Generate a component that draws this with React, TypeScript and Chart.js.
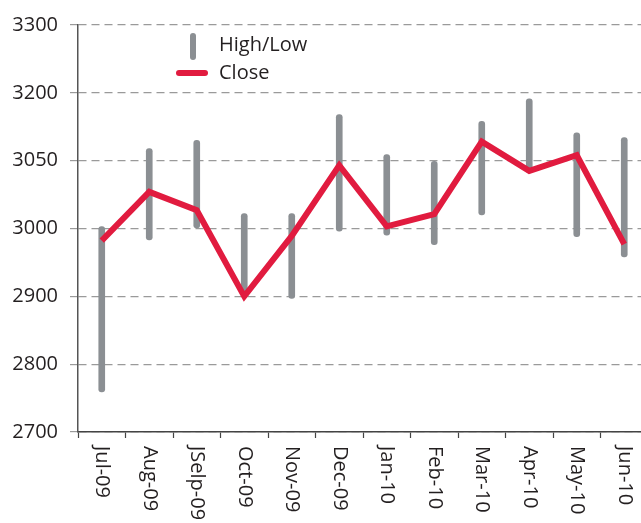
import React, { useEffect, useRef } from "react";
import { Chart, registerables } from "chart.js";

Chart.register(...registerables);

const categories = ["Jul-09", "Aug-09", "JSelp-09", "Oct-09", "Nov-09", "Dec-09", "Jan-10", "Feb-10", "Mar-10", "Apr-10", "May-10", "Jun-10"];
const highValues = [3003, 3118, 3130, 3022, 3022, 3168, 3109, 3099, 3158, 3191, 3141, 3134];
const lowValues = [2759, 2983, 3001, 2905, 2897, 2996, 2990, 2976, 3020, 3082, 2988, 2958];
const closeValues = [2982, 3054, 3027, 2900, 2989, 3093, 3003, 3021, 3128, 3085, 3108, 2977];
const yTickLabels = ["2700", "2800", "2900", "3000", "3050", "3200", "3300"];
const legendLabels = ["High/Low", "Close"];

const GRAY = "#8b8f93";
const RED = "#e11b3f";
const TEXT = "#231f20";
const FONT = "'Open Sans', sans-serif";

export default function App() {
  const ref = useRef<HTMLCanvasElement | null>(null);

  useEffect(() => {
    if (!ref.current) return;
    const xLabelsPlugin = {
      id: "xLabels",
      afterDraw(chart: any) {
        const ctx = chart.ctx;
        const xs = chart.scales.x;
        ctx.save();
        ctx.fillStyle = TEXT;
        ctx.font = `20px ${FONT}`;
        ctx.textAlign = "left";
        ctx.textBaseline = "middle";
        categories.forEach((c, i) => {
          const x = xs.getPixelForValue(i);
          ctx.save();
          ctx.translate(x, chart.chartArea.bottom + 14);
          ctx.rotate(Math.PI / 2);
          ctx.fillText(c, 0, 0);
          ctx.restore();
        });
        // legend
        ctx.lineCap = "round";
        ctx.lineWidth = 6;
        ctx.strokeStyle = GRAY;
        ctx.beginPath();
        ctx.moveTo(193, 36);
        ctx.lineTo(193, 57);
        ctx.stroke();
        ctx.strokeStyle = RED;
        ctx.beginPath();
        ctx.moveTo(179, 73);
        ctx.lineTo(205, 73);
        ctx.stroke();
        ctx.fillText(legendLabels[0], 219, 45);
        ctx.fillText(legendLabels[1], 219, 73);
        ctx.restore();
      },
    };

    const chart = new Chart(ref.current, {
      type: "bar",
      data: {
        labels: categories,
        datasets: [
          {
            type: "line",
            label: "Close",
            data: closeValues,
            borderColor: RED,
            backgroundColor: RED,
            borderWidth: 6,
            pointRadius: 0,
            tension: 0,
            borderJoinStyle: "miter",
            borderCapStyle: "butt",
            order: 0,
          } as any,
          {
            type: "bar",
            label: "High/Low",
            data: lowValues.map((l, i) => [l, highValues[i]]),
            backgroundColor: GRAY,
            barThickness: 6,
            borderRadius: 3,
            borderSkipped: false,
            order: 1,
          } as any,
        ],
      },
      options: {
        responsive: false,
        animation: false,
        layout: { padding: { top: 25, right: 12, left: 0, bottom: 0 } },
        plugins: { legend: { display: false }, tooltip: { enabled: false } },
        scales: {
          x: {
            offset: true,
            grid: {
              offset: true,
              drawOnChartArea: false,
              drawTicks: true,
              tickLength: 6,
              tickColor: "#444",
              tickWidth: 1.2,
            },
            border: { display: true, color: "#444", width: 1.5 },
            ticks: { display: false },
            afterFit: (s: any) => {
              s.height = 91;
            },
          },
          y: {
            min: 2700,
            max: 3300,
            grid: {
              color: "#9a9a9a",
              lineWidth: 1.2,
              tickLength: 8,
              tickColor: "#9a9a9a",
            },
            border: { display: true, color: "#555", width: 1.5, dash: [8, 5] },
            ticks: {
              stepSize: 100,
              padding: 12,
              color: TEXT,
              font: { family: FONT, size: 20 },
              callback: (_v: any, i: number) => yTickLabels[i],
            },
            afterFit: (s: any) => {
              s.width = 78;
            },
          },
        },
      },
      plugins: [xLabelsPlugin],
    });
    return () => chart.destroy();
  }, []);

  return (
    <div style={{ position: "fixed", left: 0, top: 0, width: 641, height: 523, overflow: "hidden", background: "#fff" }}>
      <canvas ref={ref} width={660} height={523} style={{ width: 660, height: 523, display: "block" }} />
    </div>
  );
}
